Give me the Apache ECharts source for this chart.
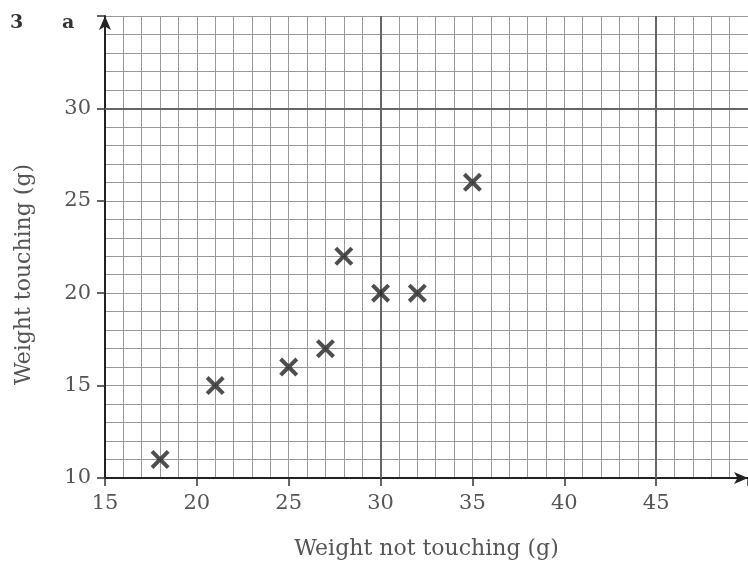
<!DOCTYPE html>
<html>
<head>
<meta charset="utf-8">
<script src="https://cdn.jsdelivr.net/npm/echarts@6/dist/echarts.min.js"></script>
<style>
  html, body { margin: 0; padding: 0; background: #fff; }
  #chart { width: 748px; height: 561px; }
</style>
</head>
<body>
<div id="chart"></div>
<script>
// 读图得到的数据
const notTouching = [18, 21, 25, 27, 28, 30, 32, 35];
const touching = [11, 15, 16, 17, 22, 20, 20, 26];
const boldX = [30, 45];
const boldY = [30];

const serif = '"DejaVu Serif", "Liberation Serif", serif';
const gridColor = '#999';
const cross = 'path://M1.5,0 L5,3.5 L8.5,0 L10,1.5 L6.5,5 L10,8.5 L8.5,10 L5,6.5 L1.5,10 L0,8.5 L3.5,5 L0,1.5 Z';

const chart = echarts.init(document.getElementById('chart'));
chart.setOption({
  backgroundColor: '#fff',
  animation: false,
  graphic: [
    { type: 'text', left: 10, top: 14, style: { text: '3', font: 'bold 19px ' + serif, fill: '#333' } },
    { type: 'text', left: 62, top: 14, style: { text: 'a', font: 'bold 19px ' + serif, fill: '#333' } }
  ],
  grid: { left: 105, right: 0, top: 16, bottom: 83, outerBoundsMode: 'none' },
  xAxis: {
    type: 'value', min: 15, max: 50, interval: 5,
    name: 'Weight not touching (g)', nameLocation: 'middle', nameGap: 60,
    nameTextStyle: { fontFamily: serif, fontSize: 22, color: '#555' },
    axisLine: { lineStyle: { color: '#222', width: 2 }, symbol: ['none', 'arrow'], symbolSize: [9, 14] },
    axisTick: { show: true, length: 8, lineStyle: { color: '#333', width: 1.5 } },
    axisLabel: { fontFamily: serif, fontSize: 21, color: '#555', margin: 15, formatter: v => v === 50 ? '' : v },
    splitLine: { show: true, lineStyle: { color: gridColor, width: 1 } },
    minorTick: { show: false, splitNumber: 5 },
    minorSplitLine: { show: true, lineStyle: { color: gridColor, width: 1 } }
  },
  yAxis: {
    type: 'value', min: 10, max: 35, interval: 5,
    name: 'Weight touching (g)', nameLocation: 'middle', nameGap: 70,
    nameTextStyle: { fontFamily: serif, fontSize: 22, color: '#555', padding: [0, 55, 0, 0] },
    axisLine: { show: true, lineStyle: { color: '#222', width: 2 }, symbol: ['none', 'arrow'], symbolSize: [9, 14] },
    axisTick: { show: true, length: 8, lineStyle: { color: '#333', width: 1.5 } },
    axisLabel: { fontFamily: serif, fontSize: 21, color: '#555', margin: 14, formatter: v => v === 35 ? '' : v },
    splitLine: { show: true, lineStyle: { color: gridColor, width: 1 } },
    minorTick: { show: false, splitNumber: 5 },
    minorSplitLine: { show: true, lineStyle: { color: gridColor, width: 1 } }
  },
  series: [{
    type: 'scatter',
    data: notTouching.map((x, i) => [x, touching[i]]),
    symbol: cross,
    symbolSize: 19,
    itemStyle: { color: '#222' },
    z: 10,
    markLine: {
      silent: true, symbol: 'none', label: { show: false },
      lineStyle: { color: '#666', width: 2, type: 'solid' },
      data: boldX.map(v => ({ xAxis: v })).concat(boldY.map(v => ({ yAxis: v })))
    }
  }]
});
</script>
</body>
</html>
